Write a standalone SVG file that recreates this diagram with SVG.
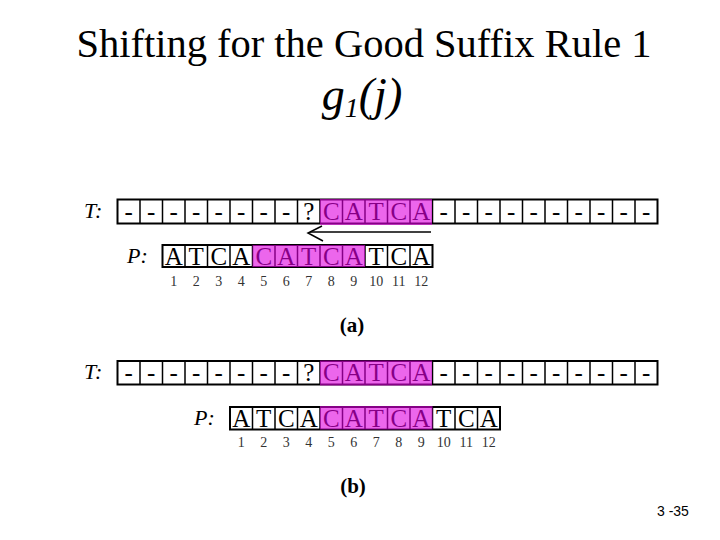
<svg xmlns="http://www.w3.org/2000/svg" width="720" height="540" viewBox="0 0 720 540">
<style>
.serif{font-family:"Liberation Serif","Times New Roman",serif}
.title{font-size:40.5px;fill:#000}
.cell{fill:none;stroke:#000;stroke-width:2}
.grid{fill:none;stroke:#000;stroke-width:1.5}
.ch{font-size:25px;fill:#000;text-anchor:middle}
.num{font-size:14px;fill:#333;text-anchor:middle}
.lbl{font-size:22px;font-style:italic;fill:#000}
.cap{font-size:21px;font-weight:bold;fill:#000;text-anchor:middle}
.hl{fill:#e000e0;fill-opacity:0.6}
.arrow{fill:none;stroke:#000;stroke-width:1.5}
</style>
<rect width="720" height="540" fill="#fff"/>
<g id="title">
<text class="serif title" x="364" y="57" text-anchor="middle">Shifting for the Good Suffix Rule 1</text>
<text class="serif" x="362" y="110" font-size="46" font-style="italic" text-anchor="middle">g<tspan font-size="28" dy="7">1</tspan><tspan dy="-7">(j)</tspan></text>
</g>

<g id="T_a">
<text class="serif lbl" x="84" y="218">T:</text>
<rect class="cell" x="117.5" y="199.5" width="540" height="24"/>
<path class="grid" d="M140 199.5V223.5M162.5 199.5V223.5M185 199.5V223.5M207.5 199.5V223.5M230 199.5V223.5M252.5 199.5V223.5M275 199.5V223.5M297.5 199.5V223.5M320 199.5V223.5M342.5 199.5V223.5M365 199.5V223.5M387.5 199.5V223.5M410 199.5V223.5M432.5 199.5V223.5M455 199.5V223.5M477.5 199.5V223.5M500 199.5V223.5M522.5 199.5V223.5M545 199.5V223.5M567.5 199.5V223.5M590 199.5V223.5M612.5 199.5V223.5M635 199.5V223.5"/>
<text class="serif ch" x="128.75 151.25 173.75 196.25 218.75 241.25 263.75 286.25 308.75 331.25 353.75 376.25 398.75 421.25 443.75 466.25 488.75 511.25 533.75 556.25 578.75 601.25 623.75 646.25" y="220">--------?CATCA----------</text>
<rect class="hl" x="320" y="199" width="112" height="26"/>
</g>

<g id="P_a">
<text class="serif lbl" x="127" y="263">P:</text>
<rect class="cell" x="162.5" y="245" width="270" height="22"/>
<path class="grid" d="M185 245V267M207.5 245V267M230 245V267M252.5 245V267M275 245V267M297.5 245V267M320 245V267M342.5 245V267M365 245V267M387.5 245V267M410 245V267"/>
<text class="serif ch" x="173.75 196.25 218.75 241.25 263.75 286.25 308.75 331.25 353.75 376.25 398.75 421.25" y="264.5">ATCACATCATCA</text>
<rect class="hl" x="252.5" y="245" width="112.5" height="22"/>
<text class="serif num" x="173.75 196.25 218.75 241.25 263.75 286.25 308.75 331.25 353.75" y="286">123456789</text>
<text class="serif num" x="376.25" y="286">10</text>
<text class="serif num" x="398.75" y="286">11</text>
<text class="serif num" x="421.25" y="286">12</text>
</g>

<g id="connectors">
<path class="arrow" d="M431 232H310"/>
<path class="arrow" d="M322 226L308 233L323 241"/>
</g>

<g id="cap_a">
<text class="serif cap" x="352" y="332">(a)</text>
</g>

<g id="T_b">
<text class="serif lbl" x="84" y="379">T:</text>
<rect class="cell" x="117.5" y="361" width="540" height="23.5"/>
<path class="grid" d="M140 361V384.5M162.5 361V384.5M185 361V384.5M207.5 361V384.5M230 361V384.5M252.5 361V384.5M275 361V384.5M297.5 361V384.5M320 361V384.5M342.5 361V384.5M365 361V384.5M387.5 361V384.5M410 361V384.5M432.5 361V384.5M455 361V384.5M477.5 361V384.5M500 361V384.5M522.5 361V384.5M545 361V384.5M567.5 361V384.5M590 361V384.5M612.5 361V384.5M635 361V384.5"/>
<text class="serif ch" x="128.75 151.25 173.75 196.25 218.75 241.25 263.75 286.25 308.75 331.25 353.75 376.25 398.75 421.25 443.75 466.25 488.75 511.25 533.75 556.25 578.75 601.25 623.75 646.25" y="381">--------?CATCA----------</text>
<rect class="hl" x="320" y="360.5" width="112" height="25"/>
</g>

<g id="P_b">
<text class="serif lbl" x="194" y="425">P:</text>
<rect class="cell" x="230" y="407" width="270" height="22.5"/>
<path class="grid" d="M252.5 407V429.5M275 407V429.5M297.5 407V429.5M320 407V429.5M342.5 407V429.5M365 407V429.5M387.5 407V429.5M410 407V429.5M432.5 407V429.5M455 407V429.5M477.5 407V429.5"/>
<text class="serif ch" x="241.25 263.75 286.25 308.75 331.25 353.75 376.25 398.75 421.25 443.75 466.25 488.75" y="426.5">ATCACATCATCA</text>
<rect class="hl" x="320" y="406" width="112.5" height="23.5"/>
<text class="serif num" x="241.25 263.75 286.25 308.75 331.25 353.75 376.25 398.75 421.25" y="447">123456789</text>
<text class="serif num" x="443.75" y="447">10</text>
<text class="serif num" x="466.25" y="447">11</text>
<text class="serif num" x="488.75" y="447">12</text>
</g>

<g id="cap_b">
<text class="serif cap" x="353" y="493">(b)</text>
</g>

<g id="pagenum">
<text x="657" y="516" font-family="Liberation Sans, Arial, sans-serif" font-size="14" fill="#000">3 -35</text>
</g>
</svg>
